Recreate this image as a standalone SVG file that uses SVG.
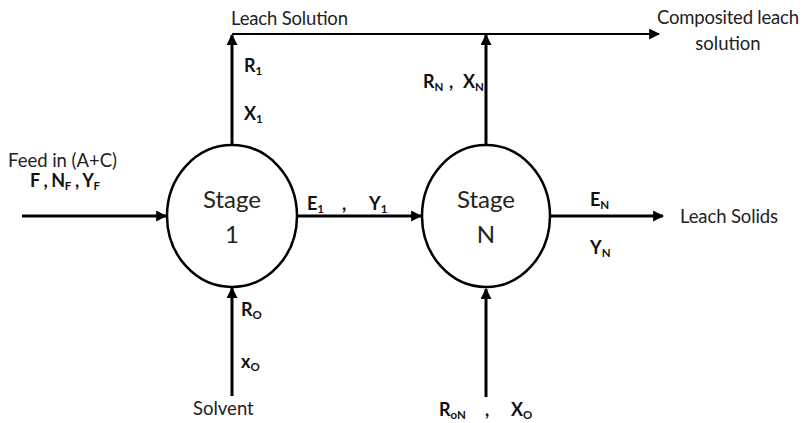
<svg xmlns="http://www.w3.org/2000/svg" width="803" height="423" viewBox="0 0 803 423">
<style>
.t{font-family:Lato,"Open Sans","Liberation Sans",sans-serif;font-size:18.5px;fill:#222}
.b{font-family:Lato,"Open Sans","Liberation Sans",sans-serif;font-size:18px;font-weight:bold;fill:#111}
.s{font-size:11.5px}
.st{font-family:Lato,"Open Sans","Liberation Sans",sans-serif;font-size:24px;fill:#222;text-anchor:middle}
.n{fill:#fff;stroke:#000;stroke-width:2.5}
.c{fill:none;stroke:#000;stroke-width:3}
.c2{fill:none;stroke:#000;stroke-width:2}
</style>
<defs>
<marker id="ah2" viewBox="0 0 10 10" refX="9" refY="5" markerWidth="11" markerHeight="11" orient="auto" markerUnits="userSpaceOnUse">
<path d="M0,0 L10,5 L0,10 z" fill="#000"/>
</marker>
</defs>
<rect width="803" height="423" fill="#fff"/>
<g id="connectors">
<path class="c" d="M22,216 H166" marker-end="url(#ah2)"/>
<path class="c" d="M298,216 H421" marker-end="url(#ah2)"/>
<path class="c" d="M551,216 H663" marker-end="url(#ah2)"/>
<path class="c" d="M232,145 V35" marker-end="url(#ah2)"/>
<path class="c2" d="M232,34 H659" marker-end="url(#ah2)"/>
<path class="c" d="M486,145 V35" marker-end="url(#ah2)"/>
<path class="c" d="M232,396 V288" marker-end="url(#ah2)"/>
<path class="c" d="M486,397 V289" marker-end="url(#ah2)"/>
</g>
<g id="stage1">
<ellipse class="n" cx="232" cy="216" rx="65" ry="71"/>
<text class="st" x="232" y="208">Stage</text>
<text class="st" x="232" y="243">1</text>
</g>
<g id="stageN">
<ellipse class="n" cx="486" cy="216" rx="64" ry="71"/>
<text class="st" x="486" y="208">Stage</text>
<text class="st" x="486" y="243">N</text>
</g>
<g id="labels">
<text class="t" x="8" y="167" textLength="109">Feed in (A+C)</text>
<text class="b" x="30" y="187" textLength="70">F , N<tspan class="s" dy="3">F</tspan><tspan dy="-3"> , Y</tspan><tspan class="s" dy="3">F</tspan></text>
<text class="t" x="231" y="25" textLength="117">Leach Solution</text>
<text class="b" x="244" y="72">R<tspan class="s" dy="3">1</tspan></text>
<text class="b" x="244" y="120">X<tspan class="s" dy="3">1</tspan></text>
<text class="b" x="307" y="210">E<tspan class="s" dy="3">1</tspan></text>
<text class="b" x="342" y="210">,</text>
<text class="b" x="369" y="210">Y<tspan class="s" dy="3">1</tspan></text>
<text class="b" x="423" y="88">R<tspan class="s" dy="3">N</tspan></text>
<text class="b" x="449" y="88">,</text>
<text class="b" x="463" y="88">X<tspan class="s" dy="3">N</tspan></text>
<text class="t" x="657" y="24" textLength="142">Composited leach</text>
<text class="t" x="728" y="50" text-anchor="middle">solution</text>
<text class="b" x="590" y="206">E<tspan class="s" dy="3">N</tspan></text>
<text class="b" x="590" y="254">Y<tspan class="s" dy="3">N</tspan></text>
<text class="t" x="680" y="223" textLength="98">Leach Solids</text>
<text class="b" x="241" y="316">R<tspan class="s" dy="3">O</tspan></text>
<text class="b" x="241" y="368">x<tspan class="s" dy="3">O</tspan></text>
<text class="t" x="193" y="415">Solvent</text>
<text class="b" x="439" y="416">R<tspan class="s" dy="3">oN</tspan></text>
<text class="b" x="485" y="416">,</text>
<text class="b" x="511" y="416">X<tspan class="s" dy="3">O</tspan></text>
</g>
</svg>
